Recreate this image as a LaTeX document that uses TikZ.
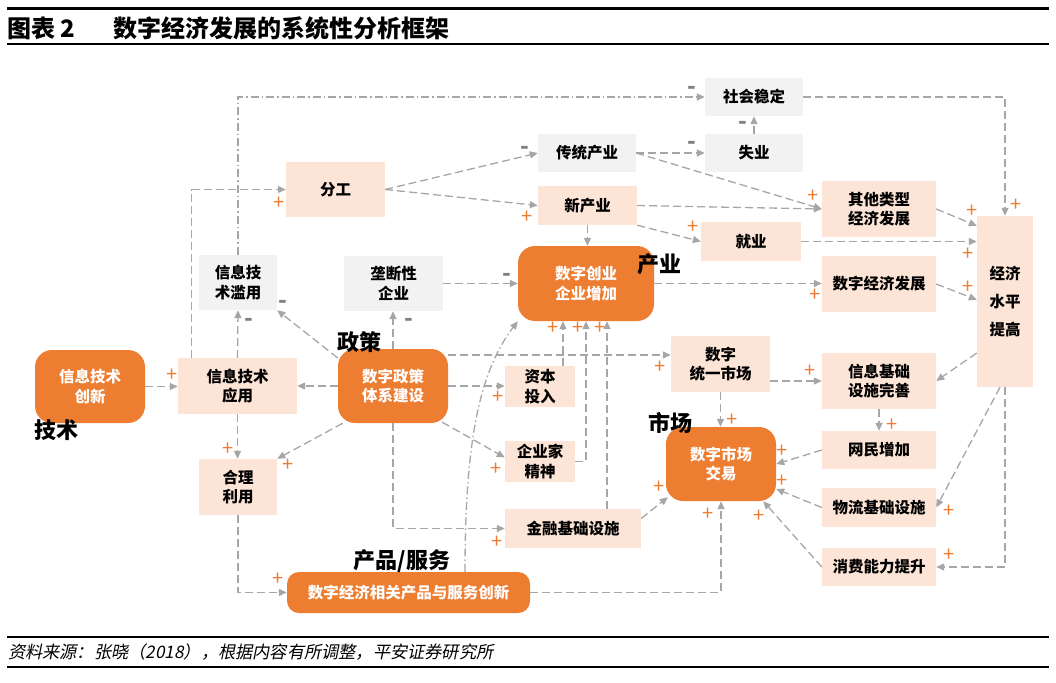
\documentclass[tikz,border=0pt]{standalone}
\usepackage{fontspec}
\setmainfont{Noto Sans CJK SC}
\newfontfamily\srcfont{Noto Sans CJK SC}[FakeSlant=0.2]
\usetikzlibrary{arrows.meta,calc}
\definecolor{org}{HTML}{ED7D31}
\definecolor{peach}{HTML}{FCE4D6}
\definecolor{lgrey}{HTML}{F2F2F2}
\definecolor{lnkc}{HTML}{A6A6A6}
\definecolor{mns}{HTML}{808080}
\tikzset{
 box/.style={rectangle, inner sep=0pt, align=center, font=\fontsize{15.5}{19.5}\selectfont\bfseries, text=black},
 pbox/.style={box, fill=peach},
 gbox/.style={box, fill=lgrey},
 obox/.style={box, fill=org, rounded corners=17pt, text=white},
 lnk/.style={draw=lnkc, line width=1.3pt, dash pattern=on 8pt off 4pt, -{Triangle[length=8pt,width=7pt]}},
 dlnk/.style={lnk, dash pattern=on 8pt off 3pt on 1.5pt off 3pt},
 plus/.style={text=org, font=\fontsize{20}{20}\selectfont, inner sep=0pt},
 minus/.style={text=mns, font=\fontsize{23}{23}\selectfont\bfseries, inner sep=0pt, yshift=-3pt},
 big/.style={font=\fontsize{22}{22}\selectfont\bfseries, inner sep=0pt},
}
\begin{document}
\begin{tikzpicture}[x=1pt,y=-1pt]
\useasboundingbox (0,0) rectangle (1056,682);
% title and source
\draw[line width=2.6pt] (7,8.5) -- (1049,8.5);
\draw[line width=2.4pt] (7,44) -- (1049,44);
\node[anchor=west, font=\fontsize{24}{24}\selectfont\bfseries, inner sep=0pt] (ttl1) at (7,28) {图表 2};
\node[anchor=west, font=\fontsize{24}{24}\selectfont\bfseries, inner sep=0pt] (ttl2) at (113,28) {数字经济发展的系统性分析框架};
\draw[line width=2.4pt] (7,637) -- (1049,637);
\draw[line width=2.4pt] (7,667) -- (1049,667);
\node[anchor=west, font=\srcfont\fontsize{17.2}{17.2}\selectfont, inner sep=0pt] (src) at (8,652) {资料来源：张晓（2018），根据内容有所调整，平安证券研究所};

% boxes
\node[obox, minimum width=110pt, minimum height=73pt] (itinno) at (90,386.5) {信息技术\\创新};
\node[pbox, minimum width=119pt, minimum height=56pt] (itapp) at (237.5,386) {信息技术\\应用};
\node[gbox, minimum width=78pt, minimum height=55pt] (itabuse) at (238,282.5) {信息技\\术滥用};
\node[pbox, minimum width=99pt, minimum height=55pt] (fengong) at (335.5,189.5) {分工};
\node[gbox, minimum width=98pt, minimum height=38pt] (chuantong) at (587,153) {传统产业};
\node[pbox, minimum width=99pt, minimum height=39pt] (xinchanye) at (587.5,205.5) {新产业};
\node[gbox, minimum width=98pt, minimum height=38pt] (shehui) at (754,97) {社会稳定};
\node[gbox, minimum width=98pt, minimum height=38pt] (shiye) at (754,153) {失业};
\node[pbox, minimum width=114pt, minimum height=56pt] (qita) at (879,209) {其他类型\\经济发展};
\node[pbox, minimum width=56pt, minimum height=171pt, font=\fontsize{15.5}{28}\selectfont\bfseries] (jingji) at (1005,301.5) {经济\\水平\\提高};
\node[pbox, minimum width=100pt, minimum height=39pt] (jiuye) at (751,241.5) {就业};
\node[pbox, minimum width=114pt, minimum height=56pt] (szjjfz) at (879,284) {数字经济发展};
\node[pbox, minimum width=99pt, minimum height=56pt] (tysc) at (720.5,364) {数字\\统一市场};
\node[pbox, minimum width=114pt, minimum height=56pt] (xxjc) at (879,381) {信息基础\\设施完善};
\node[pbox, minimum width=114pt, minimum height=38pt] (wangmin) at (879,450) {网民增加};
\node[pbox, minimum width=114pt, minimum height=39pt] (wuliu) at (879,507.5) {物流基础设施};
\node[pbox, minimum width=114pt, minimum height=38pt] (xiaofei) at (879,567) {消费能力提升};
\node[obox, minimum width=110pt, minimum height=74pt] (scjy) at (721,464) {数字市场\\交易};
\node[obox, minimum width=136pt, minimum height=75pt] (cyqy) at (586,283.5) {数字创业\\企业增加};
\node[gbox, minimum width=99pt, minimum height=55pt] (longduan) at (393.5,283.5) {垄断性\\企业};
\node[obox, minimum width=110pt, minimum height=74pt] (policy) at (393,386) {数字政策\\体系建设};
\node[pbox, minimum width=70pt, minimum height=41pt] (ziben) at (540,386.5) {资本\\投入};
\node[pbox, minimum width=70pt, minimum height=41pt] (qiyejia) at (540,461.5) {企业家\\精神};
\node[pbox, minimum width=136pt, minimum height=39pt] (jinrong) at (573,528.5) {金融基础设施};
\node[pbox, minimum width=78pt, minimum height=56pt] (heli) at (238,487) {合理\\利用};
\node[obox, rounded corners=12pt, minimum width=243pt, minimum height=41pt] (product) at (408.5,592.5) {数字经济相关产品与服务创新};

% connectors
\draw[lnk] (itinno.east) -- (itinno.east -| itapp.west);
\draw[lnk] (itapp.north) -- (itabuse.south);
\draw[lnk] ([yshift=28pt]policy.west) -- (itabuse.south east);
\draw[lnk] ([xshift=14pt]itapp.north west) |- (fengong.west);
\draw[dlnk] (itabuse.north) |- (shehui.west);
\draw[lnk] (fengong.east) -- (chuantong.west);
\draw[lnk] (fengong.east) -- (xinchanye.west);
\draw[lnk] (chuantong.east) -- (shiye.west);
\draw[lnk] (shiye.north) -- (shehui.south);
\draw[lnk] (chuantong.east) -- (qita.west);
\draw[lnk] (xinchanye.east) -- (qita.west);
\draw[lnk] (xinchanye.south east) -- (jiuye.west);
\draw[lnk] (xinchanye.south) -- (xinchanye.south |- cyqy.north);
\draw[lnk] (shehui.east) -| (jingji.north);
\draw[lnk] (qita.east) -- ([yshift=-10pt]jingji.north west);
\draw[lnk] (jiuye.east) -- (jiuye.east -| jingji.west);
\draw[lnk] (szjjfz.east) -- ([yshift=-84pt]jingji.north west);
\draw[lnk] (cyqy.east) -- (cyqy.east -| szjjfz.west);
\draw[lnk] (longduan.east) -- (longduan.east -| cyqy.west);
\draw[lnk] (policy.north) -- (policy.north |- longduan.south);
\draw[lnk] (policy.west) -- (policy.west -| itapp.east);
\draw[lnk] (policy.east) -- (policy.east -| ziben.west);
\draw[lnk] ([yshift=31pt]policy.east) -- ([yshift=31pt]policy.east -| tysc.west);
\draw[lnk] ([xshift=-6pt,yshift=1pt]policy.south east) -- ([yshift=4pt]qiyejia.west);
\draw[lnk] (policy.south) |- (jinrong.west);
\draw[lnk] ([xshift=5pt]policy.south west) -- (heli.north east);
\draw[lnk] (itapp.south) -- (itapp.south |- heli.north);
\draw[lnk] (heli.south) |- (product.west);
\draw[lnk] ([xshift=23pt]ziben.north) -- ([xshift=23pt]ziben.north |- cyqy.south);
\draw[lnk] (qiyejia.east) -| (cyqy.south);
\draw[lnk] ([xshift=34pt]jinrong.north) -- ([xshift=34pt]jinrong.north |- cyqy.south);
\draw[dlnk] ([xshift=56.5pt]product.north) .. controls +(0,-132) and +(-38,50) .. (cyqy.south west);
\draw[lnk] (product.east) -| (scjy.south);
\draw[lnk] ([yshift=10pt]jinrong.east) -- ([xshift=2pt,yshift=4pt]scjy.south west);
\draw[lnk] (tysc.south) -- (tysc.south |- scjy.north);
\draw[lnk] ([yshift=-17pt]tysc.east) -- ([yshift=-17pt]tysc.east -| xxjc.west);
\draw[lnk] ([yshift=-51.5pt]jingji.west) -- (xxjc.east);
\draw[lnk] (xxjc.south) -- (wangmin.north);
\draw[lnk] (wangmin.west) -- (scjy.east);
\draw[lnk] (wuliu.west) -- ([yshift=-25pt]scjy.east);
\draw[lnk] (xiaofei.west) -- ([xshift=-13pt]scjy.south east);
\draw[lnk] ([xshift=-5pt]jingji.south) -- (wuliu.east);
\draw[lnk] (jingji.south) |- (xiaofei.east);

% signs
\foreach \x/\y [count=\i] in {172/375, 279/203, 527/217, 813/196, 693/227, 1016/205, 972/211, 968/254, 968/287, 815/295, 498/397, 660/367, 496/469, 497/542, 288/465, 228/449, 278/579, 553/328, 578/328, 600/328, 708/514, 659/487, 732/420, 810/371, 892/425, 782/451, 782/481, 759/516, 949/511, 949/555}
  \node[plus] (pl\i) at (\x,\y) {+};
\foreach \x/\y [count=\i] in {249/319, 283/301, 692/87, 525/147, 692/142, 743/122, 507/274, 409/319}
  \node[minus] (mi\i) at (\x,\y) {-};

% big labels
\node[big] (lbjs) at (56,430) {技术};
\node[big] (lbzc) at (359,342) {政策};
\node[big] (lbcy) at (659,264) {产业};
\node[big] (lbsc) at (670,423) {市场};
\node[big] (lbcp) at (402,561) {产品/服务};
\end{tikzpicture}
\end{document}
